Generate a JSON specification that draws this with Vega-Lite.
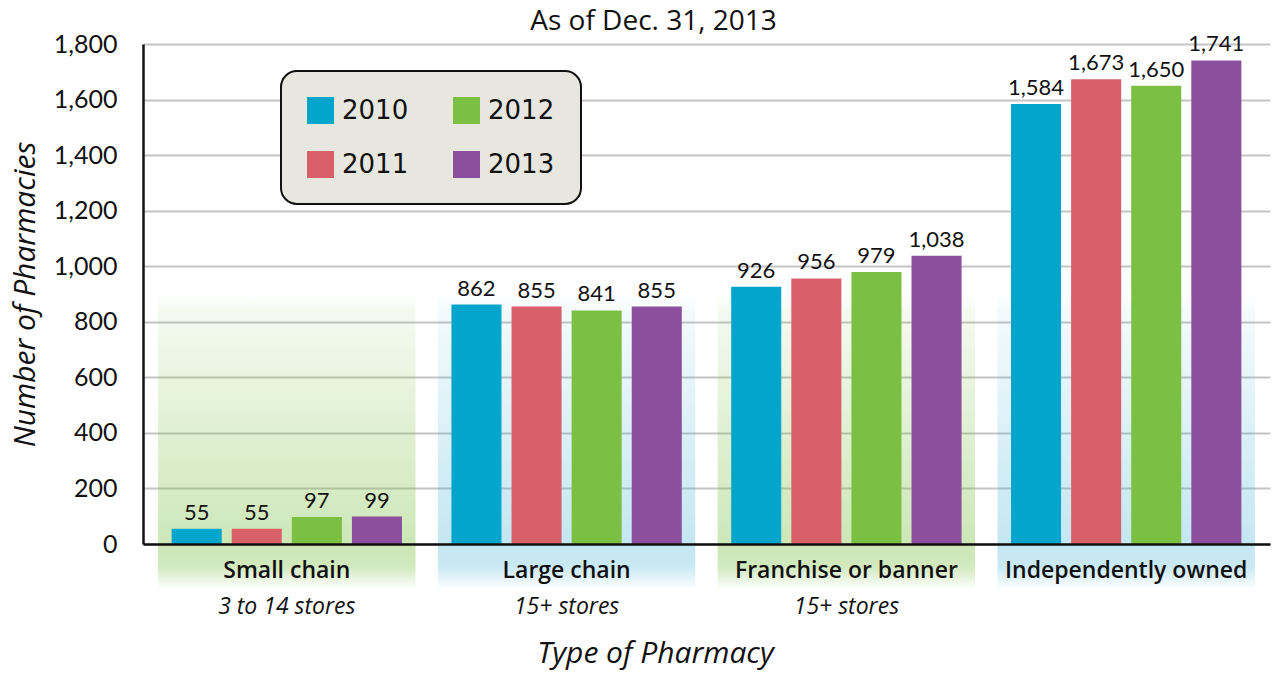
{
  "$schema": "https://vega.github.io/schema/vega-lite/v6.json",
  "width": 1127,
  "height": 500,
  "autosize": {"type": "none"},
  "padding": {"left": 143, "top": 44, "right": 4, "bottom": 129},
  "background": "white",
  "title": {"text": "As of Dec. 31, 2013", "font": "Open Sans", "fontSize": 28, "fontWeight": "normal", "color": "#111111", "dx": -53, "offset": -26, "baseline": "alphabetic"},
  "config": {
    "view": {"stroke": null},
    "legend": {
      "orient": "none", "legendX": 138, "legendY": 27, "columns": 2,
      "fillColor": "#e7e7e0", "strokeColor": "#111111", "strokeWidth": 2, "cornerRadius": 16,
      "padding": 26, "symbolType": "square", "symbolSize": 729, "symbolStrokeWidth": 0,
      "labelFont": "DejaVu Sans", "labelFontSize": 26, "labelColor": "#111111", "labelOffset": 8,
      "rowPadding": 27, "columnPadding": 44
    }
  },
  "data": {
    "values": [
      {"type": "Small chain", "year": "2010", "count": 55, "sub": "3 to 14 stores"},
      {"type": "Small chain", "year": "2011", "count": 55, "sub": "3 to 14 stores"},
      {"type": "Small chain", "year": "2012", "count": 97, "sub": "3 to 14 stores"},
      {"type": "Small chain", "year": "2013", "count": 99, "sub": "3 to 14 stores"},
      {"type": "Large chain", "year": "2010", "count": 862, "sub": "15+ stores"},
      {"type": "Large chain", "year": "2011", "count": 855, "sub": "15+ stores"},
      {"type": "Large chain", "year": "2012", "count": 841, "sub": "15+ stores"},
      {"type": "Large chain", "year": "2013", "count": 855, "sub": "15+ stores"},
      {"type": "Franchise or banner", "year": "2010", "count": 926, "sub": "15+ stores"},
      {"type": "Franchise or banner", "year": "2011", "count": 956, "sub": "15+ stores"},
      {"type": "Franchise or banner", "year": "2012", "count": 979, "sub": "15+ stores"},
      {"type": "Franchise or banner", "year": "2013", "count": 1038, "sub": "15+ stores"},
      {"type": "Independently owned", "year": "2010", "count": 1584, "sub": ""},
      {"type": "Independently owned", "year": "2011", "count": 1673, "sub": ""},
      {"type": "Independently owned", "year": "2012", "count": 1650, "sub": ""},
      {"type": "Independently owned", "year": "2013", "count": 1741, "sub": ""}
    ]
  },
  "encoding": {
    "x": {
      "field": "type", "type": "nominal",
      "sort": ["Small chain", "Large chain", "Franchise or banner", "Independently owned"],
      "scale": {"paddingInner": 0.08, "paddingOuter": 0.054},
      "axis": {
        "title": "Type of Pharmacy", "labelAngle": 0, "domain": true, "domainColor": "#111111", "domainWidth": 2.5,
        "ticks": false, "labelFont": "Open Sans", "labelFontWeight": 600, "labelFontSize": 23, "labelColor": "#111111",
        "labelPadding": 15, "labelLimit": 400, "titleFont": "Open Sans", "titleFontStyle": "italic", "titleFontWeight": "normal",
        "titleFontSize": 30, "titleColor": "#111111", "titleX": 512, "titleY": 109, "titleBaseline": "middle"
      }
    }
  },
  "layer": [
    {
      "transform": [{"filter": "datum.year == '2010' && (datum.type == 'Small chain' || datum.type == 'Franchise or banner')"}],
      "mark": {"type": "rect", "fill": {"gradient": "linear", "x1": 0, "y1": 0, "x2": 0, "y2": 1, "stops": [
        {"offset": 0, "color": "rgba(123,192,67,0.0)"},
        {"offset": 0.06, "color": "rgba(123,192,67,0.08)"},
        {"offset": 0.845, "color": "rgba(123,192,67,0.38)"},
        {"offset": 0.92, "color": "rgba(123,192,67,0.35)"},
        {"offset": 1, "color": "rgba(123,192,67,0.0)"}
      ]}},
      "encoding": {
        "y": {"datum": 900, "type": "quantitative", "scale": {"domain": [0, 1800], "nice": false}},
        "y2": {"datum": -165}
      }
    },
    {
      "transform": [{"filter": "datum.year == '2010' && (datum.type == 'Large chain' || datum.type == 'Independently owned')"}],
      "mark": {"type": "rect", "fill": {"gradient": "linear", "x1": 0, "y1": 0, "x2": 0, "y2": 1, "stops": [
        {"offset": 0, "color": "rgba(60,175,210,0.0)"},
        {"offset": 0.06, "color": "rgba(60,175,210,0.06)"},
        {"offset": 0.845, "color": "rgba(60,175,210,0.3)"},
        {"offset": 0.92, "color": "rgba(60,175,210,0.28)"},
        {"offset": 1, "color": "rgba(60,175,210,0.0)"}
      ]}},
      "encoding": {
        "y": {"datum": 900, "type": "quantitative"},
        "y2": {"datum": -165}
      }
    },
    {
      "mark": {"type": "bar"},
      "encoding": {
        "xOffset": {"field": "year", "type": "nominal", "scale": {"paddingInner": 0.167, "paddingOuter": 0.225}},
        "y": {
          "field": "count", "type": "quantitative",
          "axis": {
            "title": "Number of Pharmacies", "values": [0, 200, 400, 600, 800, 1000, 1200, 1400, 1600, 1800],
            "format": ",.0f", "domain": true, "domainColor": "#111111", "domainWidth": 2.5, "ticks": false,
            "grid": true, "gridColor": "#c4c4c4", "gridWidth": 2,
            "labelFont": "Lato", "labelFontSize": 25, "labelColor": "#111111", "labelPadding": 26,
            "titleFont": "Open Sans", "titleFontStyle": "italic", "titleFontWeight": "normal", "titleFontSize": 30,
            "titleColor": "#111111", "titlePadding": 13
          }
        },
        "color": {
          "field": "year", "type": "nominal",
          "scale": {"domain": ["2010", "2011", "2012", "2013"], "range": ["#02a6cd", "#d9606a", "#7bc043", "#8c4f9e"]},
          "legend": {"title": null}
        }
      }
    },
    {
      "mark": {"type": "text", "baseline": "bottom", "dy": -4, "font": "Lato", "fontSize": 22, "color": "#111111"},
      "encoding": {
        "xOffset": {"field": "year", "type": "nominal", "scale": {"paddingInner": 0.167, "paddingOuter": 0.225}},
        "y": {"field": "count", "type": "quantitative"},
        "text": {"field": "count", "type": "quantitative", "format": ",.0f"}
      }
    },
    {
      "transform": [{"filter": "datum.year == '2010' && datum.sub != ''"}],
      "mark": {"type": "text", "baseline": "middle", "dy": 63, "font": "Open Sans", "fontStyle": "italic", "fontSize": 23, "color": "#111111"},
      "encoding": {
        "y": {"datum": 0, "type": "quantitative"},
        "text": {"field": "sub", "type": "nominal"}
      }
    }
  ]
}
